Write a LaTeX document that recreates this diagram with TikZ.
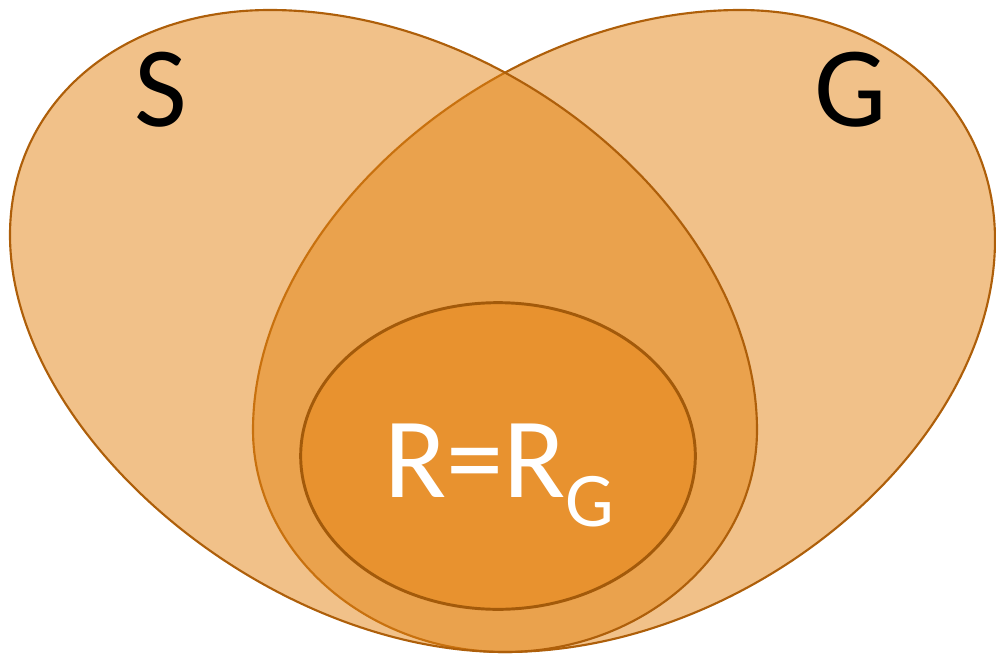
\documentclass[tikz,border=0pt]{standalone}
\usepackage{fontspec}
\setmainfont{Carlito}
\usetikzlibrary{shapes.geometric}
\definecolor{blobfill}{RGB}{227,131,19}
\definecolor{blobline}{RGB}{174,95,10}
\definecolor{innerfill}{RGB}{232,146,47}
\definecolor{innerline}{RGB}{163,90,10}
\begin{document}
\begin{tikzpicture}[x=0.75pt,y=-0.75pt,
  blob/.style={fill=blobfill,fill opacity=0.5,draw=blobline,line width=1.6pt,line join=round},
  inner/.style={ellipse,fill=innerfill,draw=innerline,line width=2.2pt,inner sep=0pt},
  biglabel/.style={font=\fontsize{86}{100}\selectfont,inner sep=0pt}]
\useasboundingbox (0,0) rectangle (996,657);
% G shape (drawn first)
\path[blob] (505,652) .. controls (750,652) and (995,446) .. (995,240)
  .. controls (995,107) and (888,10) .. (740,10)
  .. controls (497,10) and (253,220) .. (253,430)
  .. controls (253,552) and (366,652) .. (505,652) -- cycle;
% S shape (on top)
\path[blob] (505,652) .. controls (267,652) and (10,435) .. (10,235)
  .. controls (10,104) and (119,10) .. (270,10)
  .. controls (513,10) and (757,220) .. (757,430)
  .. controls (757,552) and (644,652) .. (505,652) -- cycle;
% inner ellipse
\node[inner,minimum width=296pt,minimum height=230pt] (r) at (498,456) {};
\node[biglabel,anchor=base] (s) at (161,126) {S};
\node[biglabel,anchor=base] (g) at (851,126) {G};
\node[biglabel,anchor=base west,text=white] (rg) at (384,497) {R=R\raisebox{-22pt}{\fontsize{58}{60}\selectfont G}};
\end{tikzpicture}
\end{document}
